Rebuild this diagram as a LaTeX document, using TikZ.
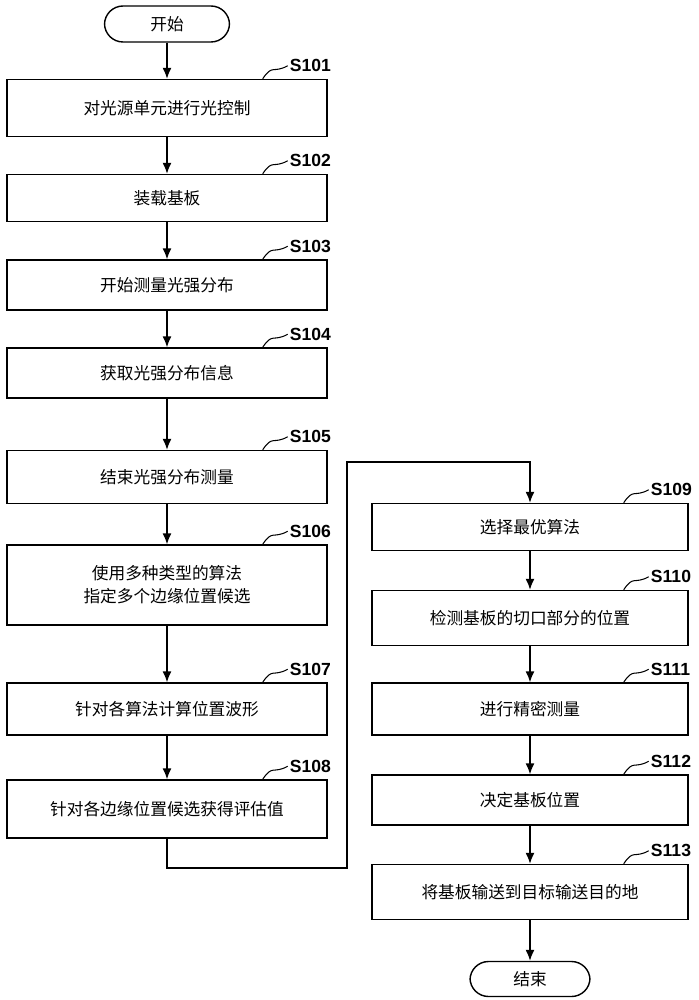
\documentclass[tikz,border=0pt]{standalone}
\usepackage{fontspec}
\setmainfont{Liberation Sans}
\newfontfamily\cjk{Noto Sans CJK SC}
\usetikzlibrary{arrows.meta}
\begin{document}
\begin{tikzpicture}[x=0.02cm,y=-0.02cm,
 box/.style={draw,line width=0.8pt,minimum width=6.4cm,align=center,font=\cjk\fontsize{9.5}{13}\selectfont},
 rbox/.style={box,minimum width=6.32cm},
 term/.style={draw,line width=0.8pt,rounded corners=0.37cm,minimum width=2.5cm,minimum height=0.72cm,font=\cjk\fontsize{9.5}{12}\selectfont},
 arr/.style={line width=0.8pt,-{Latex[length=2.2mm,width=1.8mm]}},
 lab/.style={font=\bfseries\fontsize{10}{12}\selectfont,anchor=west}]
\useasboundingbox (0,0) rectangle (699,1000);
\node[term] (st) at (167,24) {开始};
\node[box,minimum height=1.14cm] (s1) at (167,108) {对光源单元进行光控制};
\node[box,minimum height=0.94cm] (s2) at (167,198) {装载基板};
\node[box,minimum height=1.0cm] (s3) at (167,285) {开始测量光强分布};
\node[box,minimum height=1.0cm] (s4) at (167,373) {获取光强分布信息};
\node[box,minimum height=1.06cm] (s5) at (167,477) {结束光强分布测量};
\node[box,minimum height=1.6cm] (s6) at (167,585) {使用多种类型的算法\\指定多个边缘位置候选};
\node[box,minimum height=1.04cm] (s7) at (167,709) {针对各算法计算位置波形};
\node[box,minimum height=1.16cm] (s8) at (167,809) {针对各边缘位置候选获得评估值};
\node[rbox,minimum height=0.94cm] (s9) at (530,527) {选择最优算法};
\node[rbox,minimum height=1.1cm] (s10) at (530,618) {检测基板的切口部分的位置};
\node[rbox,minimum height=1.04cm] (s11) at (530,709) {进行精密测量};
\node[rbox,minimum height=1.0cm] (s12) at (530,800) {决定基板位置};
\node[rbox,minimum height=1.1cm] (s13) at (530,892) {将基板输送到目标输送目的地};
\node[term,minimum width=2.4cm,minimum height=0.7cm] (en) at (530,979) {结束};
\foreach \a/\b in {st/s1,s1/s2,s2/s3,s3/s4,s4/s5,s5/s6,s6/s7,s7/s8,s9/s10,s10/s11,s11/s12,s12/s13,s13/en}
 \draw[arr] (\a) -- (\b);
\coordinate (c1) at (167,868); \coordinate (c2) at (347,868);
\coordinate (c3) at (347,462); \coordinate (c4) at (530,462);
\draw[arr] (s8.south) -- (c1) -- (c2) -- (c3) -- (c4) -- (s9.north);
\foreach \n/\t in {s1/S101,s2/S102,s3/S103,s4/S104,s5/S105,s6/S106,s7/S107,s8/S108,s9/S109,s10/S110,s11/S111,s12/S112,s13/S113}{
 \coordinate (q\n) at ([xshift=-1.3cm]\n.north east);
 \draw[line width=0.6pt] (q\n) .. controls ([xshift=0.2cm,yshift=0.3cm]q\n) and ([xshift=0.2cm,yshift=0.1cm]q\n) .. ([xshift=0.5cm,yshift=0.26cm]q\n) node[lab,inner sep=1pt] (l\n) {\t};
}
\end{tikzpicture}
\end{document}
